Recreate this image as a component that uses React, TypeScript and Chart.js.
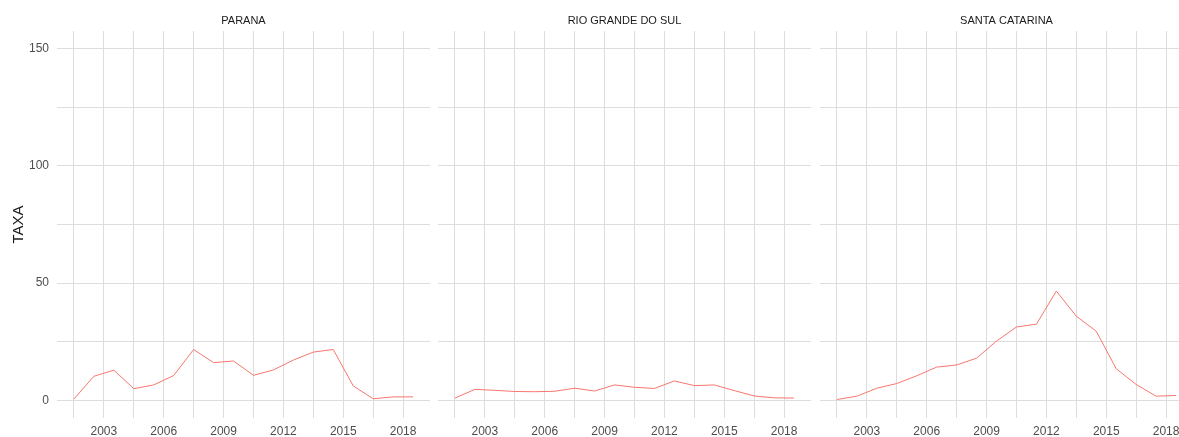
import React, { useEffect, useRef } from 'react';
import { Chart, registerables } from 'chart.js';

Chart.register(...registerables);

// ---- data ----
const YEARS = [2001, 2002, 2003, 2004, 2005, 2006, 2007, 2008, 2009, 2010, 2011, 2012, 2013, 2014, 2015, 2016, 2017, 2018];
const PARANA = [0.6, 10.3, 12.9, 5.0, 6.6, 10.6, 21.7, 16.1, 16.8, 10.7, 13.0, 17.2, 20.6, 21.7, 6.2, 0.7, 1.5, 1.5];
const RIO_GRANDE_DO_SUL = [1.0, 4.7, 4.3, 3.8, 3.7, 3.9, 5.2, 4.0, 6.6, 5.6, 5.1, 8.3, 6.3, 6.6, 4.2, 1.9, 1.1, 1.0];
const SANTA_CATARINA = [0.4, 1.8, 5.2, 7.2, 10.5, 14.2, 15.1, 18.0, 25.3, 31.3, 32.5, 46.6, 35.9, 29.5, 13.5, 6.8, 1.8, 2.1];
const PANEL_TITLES = ['PARANA', 'RIO GRANDE DO SUL', 'SANTA CATARINA'];
const X_MAJOR_TICKS = [2003, 2006, 2009, 2012, 2015, 2018];
const X_MINOR_TICKS = [2001.5, 2004.5, 2007.5, 2010.5, 2013.5, 2016.5];
const Y_MAJOR_TICKS = [0, 50, 100, 150];
const Y_MINOR_TICKS = [25, 75, 125];
const Y_TITLE = 'TAXA';

const MID_YEAR = 0.5; // values are plotted at mid-year
const FONT = '"Liberation Sans", Arial, sans-serif';
const GRID = '#dddddd';
const LINE = '#f8766d';

type PanelProps = {
  title: string;
  values: number[];
  showY: boolean;
  left: number;
  width: number;
  padLeft: number;
  padRight: number;
  yWidth: number;
};

function Panel({ title, values, showY, left, width, padLeft, padRight, yWidth }: PanelProps) {
  const ref = useRef<HTMLCanvasElement | null>(null);
  useEffect(() => {
    if (!ref.current) return;
    const xTicks = [...X_MINOR_TICKS, ...X_MAJOR_TICKS].sort((a, b) => a - b);
    const yTicks = [...Y_MINOR_TICKS, ...Y_MAJOR_TICKS].sort((a, b) => a - b);
    const chart = new Chart(ref.current, {
      type: 'line',
      data: {
        datasets: [
          {
            data: YEARS.map((yr, i) => ({ x: yr + MID_YEAR, y: values[i] })),
            borderColor: LINE,
            borderWidth: 1,
            pointRadius: 0,
            tension: 0,
            fill: false,
          },
        ],
      },
      options: {
        responsive: false,
        animation: false,
        layout: { padding: { left: padLeft, right: padRight, top: 0, bottom: 0 } },
        plugins: {
          legend: { display: false },
          tooltip: { enabled: false },
          title: {
            display: true,
            text: title,
            fullSize: false,
            color: '#1a1a1a',
            font: { family: FONT, size: 11, weight: 'normal' },
            padding: { top: 14, bottom: 3.8 },
          },
        },
        scales: {
          x: {
            type: 'linear',
            min: 2000.65,
            max: 2019.35,
            border: { display: false },
            grid: { color: GRID, lineWidth: 1, drawTicks: false },
            afterBuildTicks: (scale: any) => {
              scale.ticks = xTicks.map((v) => ({ value: v }));
            },
            afterFit: (scale: any) => {
              scale.height = 19;
            },
            ticks: {
              autoSkip: false,
              maxRotation: 0,
              padding: 6,
              color: '#4d4d4d',
              font: { family: FONT, size: 12 },
              callback: (v: any) => (X_MAJOR_TICKS.includes(Number(v)) ? String(v) : ''),
            },
          },
          y: {
            type: 'linear',
            min: -7.5,
            max: 157.5,
            border: { display: false },
            grid: { color: GRID, lineWidth: 1, drawTicks: false },
            afterBuildTicks: (scale: any) => {
              scale.ticks = yTicks.map((v) => ({ value: v }));
            },
            afterFit: (scale: any) => {
              scale.width = yWidth;
            },
            title: {
              display: showY,
              text: Y_TITLE,
              color: '#1a1a1a',
              font: { family: FONT, size: 15 },
              padding: { top: 10, bottom: 0 },
            },
            ticks: {
              display: showY,
              padding: 8,
              color: '#4d4d4d',
              font: { family: FONT, size: 12 },
              callback: (v: any) => (Y_MAJOR_TICKS.includes(Number(v)) ? String(v) : ''),
            },
          },
        },
      },
    } as any);
    return () => chart.destroy();
  }, [title, values, showY, padLeft, padRight, yWidth]);
  return (
    <canvas
      ref={ref}
      width={width}
      height={437}
      style={{ position: 'absolute', left, top: 0, width, height: 437 }}
    />
  );
}

export default function App() {
  return (
    <div
      style={{
        position: 'fixed',
        left: 0,
        top: 0,
        width: 1179,
        height: 437,
        overflow: 'hidden',
        background: '#ffffff',
      }}
    >
      <Panel title={PANEL_TITLES[0]} values={PARANA} showY={true} left={0} width={433} padLeft={0} padRight={3} yWidth={57} />
      <Panel title={PANEL_TITLES[1]} values={RIO_GRANDE_DO_SUL} showY={false} left={432} width={383} padLeft={6} padRight={4} yWidth={0} />
      <Panel title={PANEL_TITLES[2]} values={SANTA_CATARINA} showY={false} left={814} width={383} padLeft={6} padRight={4} yWidth={0} />
    </div>
  );
}
